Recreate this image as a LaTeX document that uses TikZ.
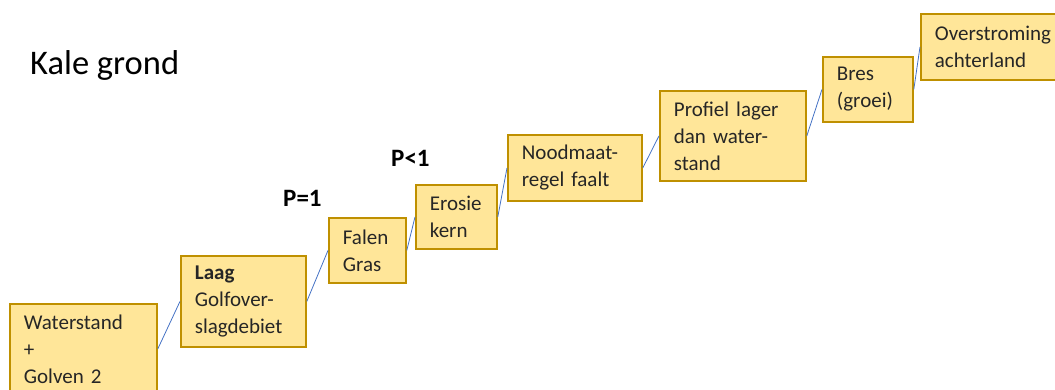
\documentclass[tikz,border=0pt]{standalone}
\usepackage{fontspec}
\setmainfont{Carlito}
\definecolor{boxfill}{HTML}{FFE699}
\definecolor{boxdraw}{HTML}{BF9000}
\definecolor{conncol}{HTML}{4472C4}
\tikzset{
  stepbox/.style={draw=boxdraw, fill=boxfill, line width=1.8pt, anchor=north west,
    align=left, inner xsep=14pt, inner ysep=0pt, text=black!85, font=\fontsize{21}{27}\selectfont},
  conn/.style={draw=conncol, line width=0.8pt},
  plabel/.style={anchor=base west, inner sep=0pt, font=\bfseries\fontsize{25}{30}\selectfont}
}
\begin{document}
\begin{tikzpicture}[x=1pt,y=-1pt]
\useasboundingbox (0,0) rectangle (1055,390);
\clip (0,0) rectangle (1055,390);
\node[anchor=base west, inner sep=0pt, font=\fontsize{34.5}{40}\selectfont] (title) at (30,75) {Kale grond};
\node[plabel] (p1) at (283,207) {P=1};
\node[plabel] (p2) at (391,167) {P<1};
\node[stepbox, text width=119pt, minimum height=90pt] (b1) at (9,303) {Waterstand\\+\\Golven 2};
\node[stepbox, text width=97pt, minimum height=91pt] (b2) at (180,255) {\textbf{Laag}\\Golfover-\\slagdebiet};
\node[stepbox, text width=49pt, minimum height=65pt] (b3) at (328,217) {Falen\\Gras};
\node[stepbox, text width=53pt, minimum height=64pt] (b4) at (415,184) {Erosie\\kern};
\node[stepbox, text width=106pt, minimum height=66pt] (b5) at (507,134) {Noodmaat-\\regel faalt};
\node[stepbox, text width=118pt, minimum height=90pt] (b6) at (659,90) {Profiel lager\\dan water-\\stand};
\node[stepbox, text width=62pt, minimum height=65pt] (b7) at (822,56) {Bres\\(groei)};
\node[stepbox, text width=117pt, minimum height=66pt] (b8) at (920,13) {Overstroming\\achterland};
\draw[conn] (b1.east) -- (b2.west);
\draw[conn] (b2.east) -- (b3.west);
\draw[conn] (b3.east) -- (b4.west);
\draw[conn] (b4.east) -- (b5.west);
\draw[conn] (b5.east) -- (b6.west);
\draw[conn] (b6.east) -- (b7.west);
\draw[conn] (b7.east) -- (b8.west);
\end{tikzpicture}
\end{document}
